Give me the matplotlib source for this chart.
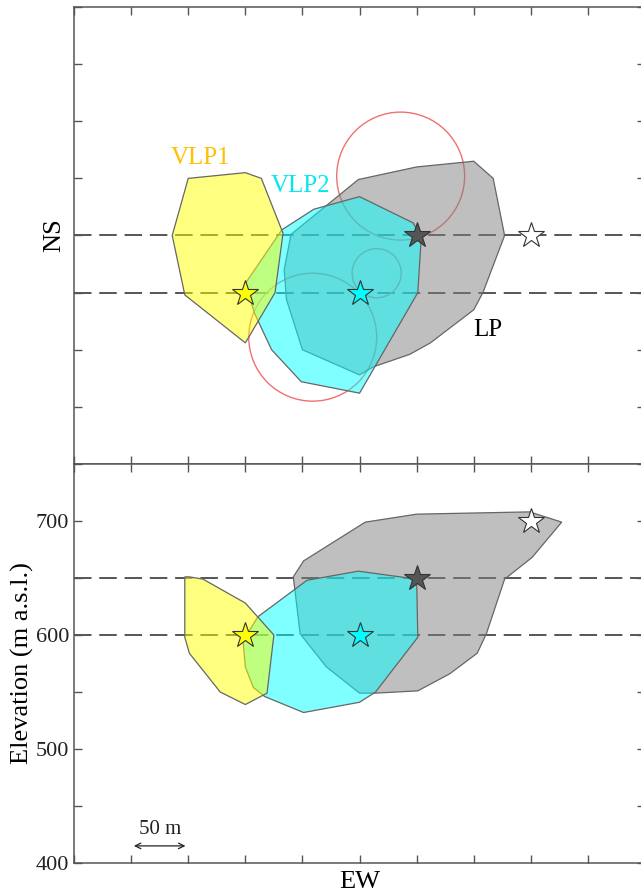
import numpy as np
import matplotlib
matplotlib.use("Agg")
import matplotlib.pyplot as plt
from matplotlib.patches import Polygon, Circle

plt.rcParams['font.family'] = ['Liberation Serif', 'DejaVu Serif']

# ---- map view (EW vs NS), metres
vlp1_map_x = [100, 150, 164, 183, 176, 150, 97, 86]
vlp1_map_y = [250, 255, 250, 202, 150, 106, 148, 200]

vlp2_map_x = [250, 297, 304, 301, 250, 199, 173, 158, 150, 182, 210]
vlp2_map_y = [234, 211, 198, 150, 62, 72, 100, 132, 158, 205, 223]

lp_map_x = [249, 300, 350, 367, 377, 358, 350, 312, 294, 262, 250, 200, 186, 184, 190]
lp_map_y = [249, 260, 265, 250, 200, 150, 135, 106, 96, 85, 78, 100, 144, 170, 201]

circle_x = [286, 209, 265]
circle_y = [252, 111, 167]
circle_r = [56, 56, 21.5]

# ---- section view (EW vs elevation)
vlp1_sec_x = [97, 101, 113, 150, 175, 169, 150, 128, 101, 97]
vlp1_sec_z = [651, 651, 649, 628, 600, 549, 539, 550, 584, 598]

vlp2_sec_x = [249, 300, 301, 264, 250, 201, 167, 157, 150, 148, 161, 204]
vlp2_sec_z = [656, 649, 598, 550, 541, 532, 546, 554, 572, 595, 616, 648]

lp_sec_x = [255, 300, 399, 427, 401, 377, 361, 353, 329, 301, 264, 250, 221, 198, 192, 201]
lp_sec_z = [699, 706, 708, 699, 668, 649, 601, 584, 566, 551, 549, 549, 572, 601, 651, 665]

# stars: VLP1, VLP2, LP, reference
star_x = [150, 250, 300, 400]
star_ns = [150, 150, 200, 200]
star_z = [600, 600, 650, 700]
star_colors = ['#FFFF00', '#00FFFF', '#555555', '#FFFFFF']

ns_lines = [200, 150]
z_lines = [650, 600]

fig = plt.figure(figsize=(6.41, 8.94), dpi=100)
W, H = 641.0, 894.0
left = 74 / W
width = 571.1 / W
ax1 = fig.add_axes([left, 1 - 464 / H, width, 457 / H])
ax2 = fig.add_axes([left, 1 - 863 / H, width, 399 / H])

fills = {'vlp1': (1, 1, 0, 0.5), 'vlp2': (0, 1, 1, 0.5), 'lp': (0.5, 0.5, 0.5, 0.5)}
edge = '#666666'
dash_c = '#555555'


def add_poly(ax, xs, ys, key, z):
    ax.add_patch(Polygon(np.column_stack([xs, ys]), closed=True, facecolor=fills[key],
                         edgecolor=edge, lw=0.9, zorder=z))


for ax in (ax1, ax2):
    ax.set_xlim(0, 500)
    ax.set_xticks(np.arange(0, 501, 50))
    ax.set_xticklabels([])
    ax.tick_params(direction='in', length=6, width=1, colors='#555555',
                   top=True, right=True, labelsize=16, labelcolor='#222222')
    for s in ax.spines.values():
        s.set_color('#555555')
        s.set_linewidth(1.1)

# top panel
ax1.set_ylim(0, 400)
ax1.set_yticks(np.arange(0, 401, 50))
ax1.set_yticklabels([])
for v in ns_lines:
    ax1.axhline(v, color=dash_c, lw=1.4, dashes=(9, 4), zorder=1)
for cx, cy, r in zip(circle_x, circle_y, circle_r):
    ax1.add_patch(Circle((cx, cy), r, fill=False, edgecolor='#F07070', lw=1.0, zorder=1.5))
add_poly(ax1, lp_map_x, lp_map_y, 'lp', 2)
add_poly(ax1, vlp2_map_x, vlp2_map_y, 'vlp2', 3)
add_poly(ax1, vlp1_map_x, vlp1_map_y, 'vlp1', 4)
for x, y, c in zip(star_x, star_ns, star_colors):
    ax1.plot(x, y, marker='*', ms=19, mfc=c, mec='#333333', mew=0.8, zorder=6)
ax1.text(111, 268, 'VLP1', color='#FFC000', fontsize=18, ha='center', va='center')
ax1.text(198, 243, 'VLP2', color='#00E8F0', fontsize=18, ha='center', va='center')
ax1.text(362, 117, 'LP', color='black', fontsize=18, ha='center', va='center')
ax1.set_ylabel('NS', fontsize=19, labelpad=3)

# bottom panel
ax2.set_ylim(400, 750)
ax2.set_yticks(np.arange(400, 751, 50))
ax2.set_yticklabels([str(v) if v % 100 == 0 else '' for v in range(400, 751, 50)])
for v in z_lines:
    ax2.axhline(v, color=dash_c, lw=1.4, dashes=(9, 4), zorder=1)
add_poly(ax2, lp_sec_x, lp_sec_z, 'lp', 2)
add_poly(ax2, vlp2_sec_x, vlp2_sec_z, 'vlp2', 3)
add_poly(ax2, vlp1_sec_x, vlp1_sec_z, 'vlp1', 4)
for x, z, c in zip(star_x, star_z, star_colors):
    ax2.plot(x, z, marker='*', ms=19, mfc=c, mec='#333333', mew=0.8, zorder=6)
ax2.annotate('', xy=(50, 415), xytext=(100, 415),
             arrowprops=dict(arrowstyle='<->', color='#222222', lw=0.9))
ax2.text(75, 429, '50 m', fontsize=15, ha='center', va='center', color='#222222')
ax2.set_ylabel('Elevation (m a.s.l.)', fontsize=19, labelpad=1)
ax2.set_xlabel('EW', fontsize=19, labelpad=2)

fig.savefig('out.png', dpi=100)
